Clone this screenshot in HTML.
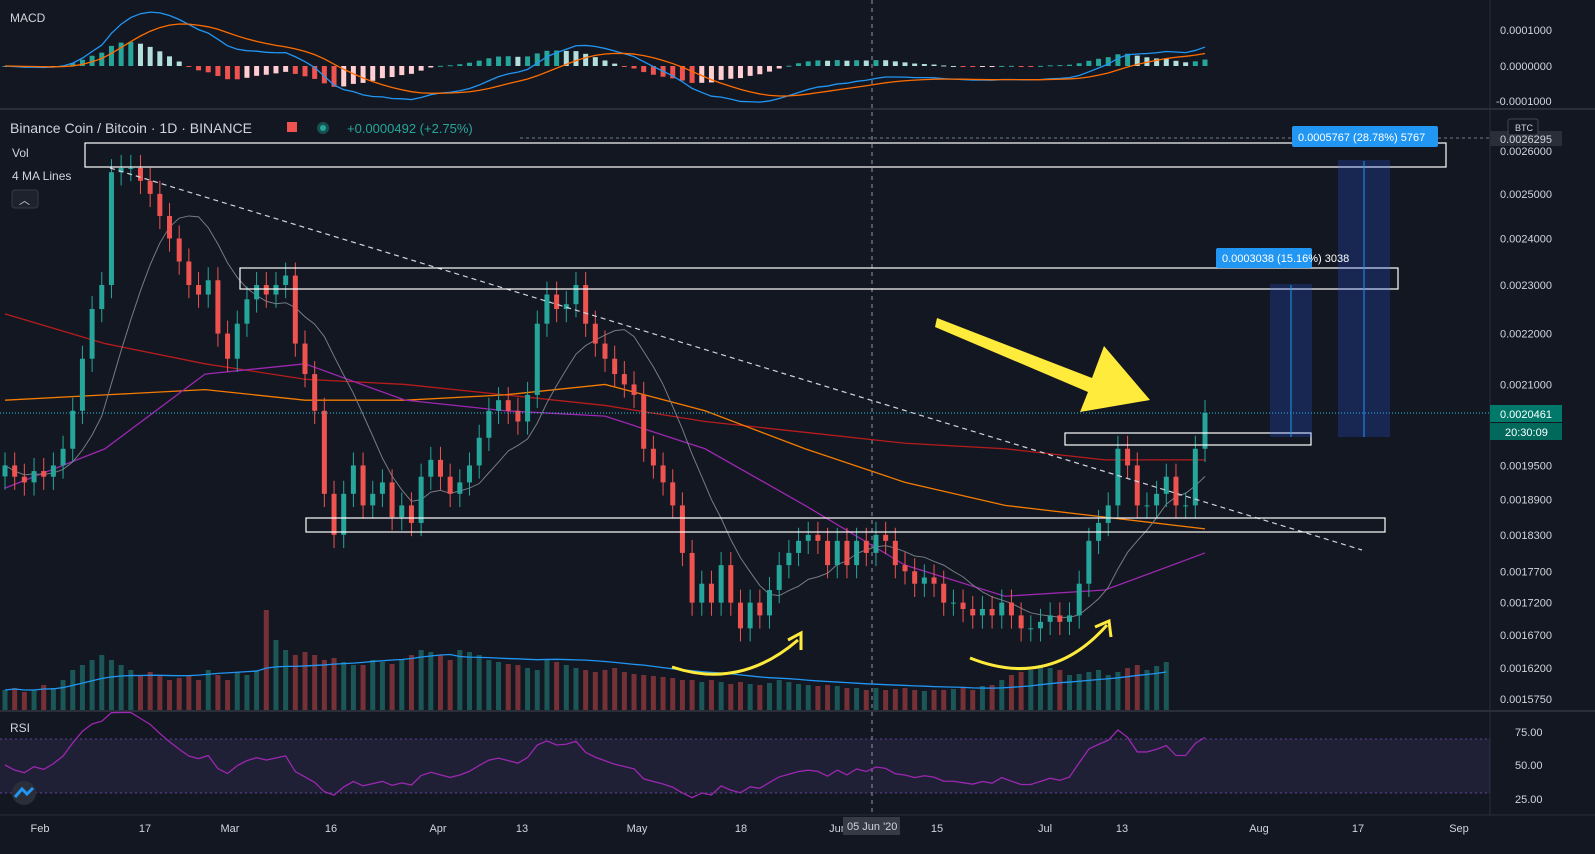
<!DOCTYPE html>
<html><head><meta charset="utf-8">
<style>
html,body{margin:0;padding:0;background:#131722;overflow:hidden}
svg{display:block;font-family:"Liberation Sans",sans-serif}
</style></head>
<body>
<svg id="c" width="1595" height="854">
<rect x="0" y="0" width="1595" height="854" fill="#131722"/>
<g id="grid">
<line x1="0" y1="109" x2="1595" y2="109" stroke="#2a2e39" stroke-width="2"/>
<line x1="0" y1="711" x2="1595" y2="711" stroke="#2a2e39" stroke-width="2"/>
<line x1="0" y1="815" x2="1595" y2="815" stroke="#2a2e39" stroke-width="1"/>
<line x1="1490" y1="0" x2="1490" y2="815" stroke="#2a2e39" stroke-width="1"/>
</g>
<g id="rsiBand">
<rect x="0" y="739" width="1490" height="54" fill="#7e57c2" fill-opacity="0.12"/>
<line x1="0" y1="739" x2="1490" y2="739" stroke="#7e57c2" stroke-dasharray="2,3" stroke-opacity="0.7"/>
<line x1="0" y1="793" x2="1490" y2="793" stroke="#7e57c2" stroke-dasharray="2,3" stroke-opacity="0.7"/>
</g>
<line x1="872" y1="0" x2="872" y2="815" stroke="#9598a1" stroke-dasharray="4,4"/>
<g id="vol"></g>
<g id="ma"></g>
<g id="candles"></g>
<g id="macd"></g>
<g id="rsi"></g>
<g>
<line x1="0" y1="413" x2="1490" y2="413" stroke="#26c6da" stroke-dasharray="1,2"/>
<line x1="520" y1="138" x2="1490" y2="138" stroke="#787b86" stroke-dasharray="3,3"/>
<line x1="110" y1="168" x2="1362" y2="550" stroke="#d1d4dc" stroke-dasharray="5,4" stroke-width="1.2"/>
<rect x="85" y="143" width="1361" height="24" fill="none" stroke="#fff" stroke-width="1.2"/>
<rect x="240" y="268" width="1158" height="21" fill="none" stroke="#fff" stroke-width="1.2"/>
<rect x="306" y="518" width="1079" height="14" fill="none" stroke="#fff" stroke-width="1.2"/>
<rect x="1065" y="433" width="246" height="12" fill="none" stroke="#fff" stroke-width="1.2"/>
<rect x="1270" y="284" width="42" height="153" fill="#2962ff" fill-opacity="0.22"/>
<line x1="1291" y1="437" x2="1291" y2="285" stroke="#2196f3"/>
<rect x="1338" y="160" width="52" height="277" fill="#2962ff" fill-opacity="0.22"/>
<line x1="1364" y1="437" x2="1364" y2="161" stroke="#2196f3"/>
<rect x="1216" y="248" width="96" height="20" rx="2" fill="#2196f3"/>
<text x="1222" y="262" font-size="11" fill="#fff">0.0003038 (15.16%) 3038</text>
<rect x="1292" y="126" width="146" height="21" rx="2" fill="#2196f3"/>
<text x="1298" y="141" font-size="11" fill="#fff">0.0005767 (28.78%) 5767</text>
<polygon points="937,318 1092,378 1104,346 1150,400 1080,412 1088,392 935,327" fill="#ffeb3b"/>
<path d="M672,667 Q740,690 798,640" fill="none" stroke="#ffeb3b" stroke-width="3"/>
<path d="M788,640 L801,633 L801,650" fill="none" stroke="#ffeb3b" stroke-width="3"/>
<path d="M970,658 Q1050,690 1107,625" fill="none" stroke="#ffeb3b" stroke-width="3"/>
<path d="M1095,627 L1109,621 L1111,637" fill="none" stroke="#ffeb3b" stroke-width="3"/>
</g>
<g font-size="13" fill="#d1d4dc">
<text x="10" y="22" font-size="12">MACD</text>
<text x="10" y="133" font-size="14">Binance Coin / Bitcoin · 1D · BINANCE</text>
<rect x="287" y="122" width="10" height="10" fill="#ef5350"/>
<circle cx="323" cy="128" r="6" fill="#26a69a" fill-opacity="0.4"/><circle cx="323" cy="128" r="3" fill="#26a69a"/>
<text x="347" y="133" fill="#26a69a">+0.0000492 (+2.75%)</text>
<text x="12" y="157" font-size="12">Vol</text>
<text x="12" y="180" font-size="12">4 MA Lines</text>
<rect x="12" y="190" width="26" height="18" rx="3" fill="#1e222d" stroke="#363a45"/>
<text x="19" y="204" font-size="11">︿</text>
<text x="10" y="732" font-size="12">RSI</text>
</g>
<g id="axis" font-size="11" fill="#d1d4dc"></g>
<g id="taxis" font-size="11" fill="#d1d4dc"></g>
<g font-size="11">
<rect x="1490" y="405" width="72" height="17" fill="#00796b"/>
<text x="1500" y="418" fill="#fff">0.0020461</text>
<rect x="1490" y="423" width="72" height="17" fill="#00695c"/>
<text x="1505" y="436" fill="#fff">20:30:09</text>
<rect x="1490" y="131" width="72" height="15" fill="#2a2e39"/>
<text x="1500" y="143" fill="#d1d4dc">0.0026295</text>
<rect x="1508" y="119" width="30" height="16" rx="2" fill="#131722" stroke="#434651"/>
<text x="1515" y="131" fill="#d1d4dc" font-size="9">BTC</text>
<rect x="843" y="817" width="57" height="18" fill="#363a45"/>
<text x="847" y="830" fill="#d1d4dc">05 Jun '20</text>
<circle cx="24" cy="793" r="12" fill="#2a2e39"/>
<path d="M15,797 L22,789 L27,794 L33,788" stroke="#2196f3" stroke-width="3" fill="none"/>
</g>
</svg>
<script>
const closes=[0.00195,0.00193,0.00192,0.00194,0.00193,0.00195,0.00198,0.00205,0.00215,0.00225,
0.0023,0.00255,0.00256,0.00256,0.00253,0.0025,0.00245,
0.0024,0.00235,0.0023,0.00228,0.00231,0.0022,0.00215,0.00222,0.00227,0.0023,
0.00228,0.0023,0.00232,0.00218,0.00212,0.00205,0.0019,0.00183,0.0019,0.00195,
0.00188,0.0019,0.00192,0.00186,0.00188,0.00185,0.00193,0.00196,0.00193,0.0019,
0.00192,0.00195,0.002,0.00205,0.00207,0.00205,0.00203,0.00208,0.00222,0.00228,
0.00225,0.00226,0.0023,0.00222,0.00218,0.00215,0.00212,0.0021,0.00208,0.00198,
0.00195,0.00192,0.00188,0.0018,0.00172,0.00175,0.00172,0.00178,0.00172,0.00168,
0.00172,0.0017,0.00174,0.00178,0.0018,0.00182,0.00183,0.00182,0.00178,0.00182,
0.00178,0.00182,0.0018,0.00183,0.00182,0.00178,0.00177,0.00175,0.00176,0.00175,
0.00172,0.00172,0.00171,0.0017,0.00171,0.0017,0.00172,0.0017,0.00168,0.00168,
0.00169,0.0017,0.00169,0.0017,0.00175,0.00182,0.00185,0.00188,0.00198,0.00195,
0.00188,0.00188,0.0019,0.00193,0.00188,0.00188,0.00198,0.002046];
const volumes=[20,22,18,20,25,22,30,40,45,50,55,50,45,40,35,38,35,30,32,35,30,40,35,30,38,35,40,
100,70,60,55,58,55,50,52,48,45,45,50,48,46,50,55,60,58,55,50,60,58,55,50,48,46,45,42,40,50,
48,45,42,40,38,40,42,38,36,35,34,33,32,30,30,28,30,28,26,28,26,25,27,30,28,26,25,24,25,24,
22,22,20,22,20,21,22,20,19,20,20,21,22,20,24,25,30,35,38,40,45,42,40,35,36,38,40,35,38,42,45,40,44,48];
const ma200=[0.00224,0.00218,0.00214,0.00211,0.0021,0.00208,0.00206,0.00203,0.00201,0.00199,0.00198,0.00196,0.00196];
const ma100=[0.00207,0.00208,0.00209,0.00207,0.00207,0.00208,0.0021,0.00205,0.00198,0.00192,0.00188,0.00186,0.00184];
const ma50=[0.00191,0.00198,0.00212,0.00214,0.00207,0.00205,0.00204,0.00198,0.00188,0.00178,0.00173,0.00174,0.0018];
const priceTicks=["0.0026000","0.0025000","0.0024000","0.0023000","0.0022000","0.0021000","0.0019500","0.0018900","0.0018300","0.0017700","0.0017200","0.0016700","0.0016200","0.0015750"];
const timeTicks=["Feb","17","Mar","16","Apr","13","May","18","Jun","15","Jul","13","Aug","17","Sep"];
const timeTickX=[40,145,230,331,438,522,637,741,838,937,1045,1122,1259,1358,1459];

const NS="http://www.w3.org/2000/svg";
const N=closes.length, X0=5, X1=1205;
const step=(X1-X0)/(N-1);
const xi=i=>X0+i*step;
const py=p=>151+1093*Math.log(0.0026/p);
function mk(tag,attrs,parent){const e=document.createElementNS(NS,tag);for(const k in attrs)e.setAttribute(k,attrs[k]);parent.appendChild(e);return e;}
const G=id=>document.getElementById(id);
const up="#26a69a",dn="#ef5350";
const VN=Math.min(N,volumes.length);
const vmax=Math.max(...volumes);
for(let i=0;i<VN;i++){const h=volumes[i]/vmax*100;const o=i?closes[i-1]:closes[0];
const r=mk('rect',{x:xi(i)-2.5,y:710-h,width:5,height:h,fill:closes[i]>=o?up:dn,'fill-opacity':0.45},G('vol'));

}
let vp=[];for(let i=0;i<VN;i++){let s=0,c=0;for(let j=Math.max(0,i-19);j<=i;j++){s+=volumes[j];c++;}vp.push(xi(i)+','+(710-s/c/vmax*100));}
const vl=mk('polyline',{points:vp.join(' '),fill:'none',stroke:'#2196f3','stroke-width':1.3},G('vol'));


function maLine(arr,color,name){const pts=arr.map((p,k)=>(X0+k*(X1-X0)/(arr.length-1))+','+py(p)).join(' ');
const l=mk('polyline',{points:pts,fill:'none',stroke:color,'stroke-width':1.3},G('ma'));

}
maLine(ma200,'#b71c1c','ma-200');maLine(ma100,'#f57c00','ma-100');maLine(ma50,'#9c27b0','ma-50');
let gp=[];for(let i=0;i<N;i++){let s=0,c=0;for(let j=Math.max(0,i-9);j<=i;j++){s+=closes[j];c++;}gp.push(xi(i)+','+py(s/c));}
const gl=mk('polyline',{points:gp.join(' '),fill:'none',stroke:'#787b86','stroke-width':1},G('ma'));


for(let i=0;i<N;i++){const o=i?closes[i-1]:closes[0]*0.99,c=closes[i];const col=c>=o?up:dn;
const hi=Math.max(o,c)*1.012,lo=Math.min(o,c)*0.988;
const w=mk('line',{x1:xi(i),x2:xi(i),y1:py(hi),y2:py(lo),stroke:col},G('candles'));


const top=py(Math.max(o,c)),bh=Math.max(1,py(Math.min(o,c))-top);
const b=mk('rect',{x:xi(i)-2.5,y:top,width:5,height:bh,fill:col},G('candles'));

}
function ema(a,n){const k=2/(n+1);let r=[a[0]];for(let i=1;i<a.length;i++)r.push(a[i]*k+r[i-1]*(1-k));return r;}
const e12=ema(closes,12),e26=ema(closes,26);const macd=e12.map((v,i)=>v-e26[i]);const sig=ema(macd,9);
const my=v=>66-v*0.35e6;
for(let i=0;i<N;i++){const h=macd[i]-sig[i];const prev=i?macd[i-1]-sig[i-1]:h;
const col=h>=0?(h>=prev?'#26a69a':'#b2dfdb'):(h<=prev?'#ef5350':'#ffcdd2');
const r=mk('rect',{x:xi(i)-2.5,y:Math.min(my(h),66),width:5,height:Math.max(1,Math.abs(my(h)-66)),fill:col},G('macd'));

}
const ml=mk('polyline',{points:macd.map((v,i)=>xi(i)+','+my(v)).join(' '),fill:'none',stroke:'#2196f3','stroke-width':1.3},G('macd'));


const sl=mk('polyline',{points:sig.map((v,i)=>xi(i)+','+my(v)).join(' '),fill:'none',stroke:'#ff6d00','stroke-width':1.3},G('macd'));


let ag=0.00001,al=0.00001,rs=[];for(let i=0;i<N;i++){const d=i?closes[i]-closes[i-1]:0;const g=Math.max(d,0),l=Math.max(-d,0);
ag=(ag*13+g)/14;al=(al*13+l)/14;rs.push(100-100/(1+ag/al));}
const ry=v=>765-(v-50)*1.35;
const rl=mk('polyline',{points:rs.map((v,i)=>xi(i)+','+ry(v)).join(' '),fill:'none',stroke:'#9c27b0','stroke-width':1.3},G('rsi'));


const ax=G('axis');
priceTicks.forEach(t=>{const tx=mk('text',{x:1500,y:py(parseFloat(t))+4},ax);tx.textContent=t;

});
[["0.0001000",30],["0.0000000",66],["-0.0001000",101],["75.00",732],["50.00",765],["25.00",799]].forEach(a=>{
const tx=mk('text',{x:a[0].startsWith('-')?1496:(a[0].length<7?1515:1500),y:a[1]+4},ax);tx.textContent=a[0];

});
const ta=G('taxis');
timeTicks.forEach((t,k)=>{const tx=mk('text',{x:timeTickX[k],y:832,'text-anchor':'middle'},ta);tx.textContent=t;

});
</script>
</body></html>
